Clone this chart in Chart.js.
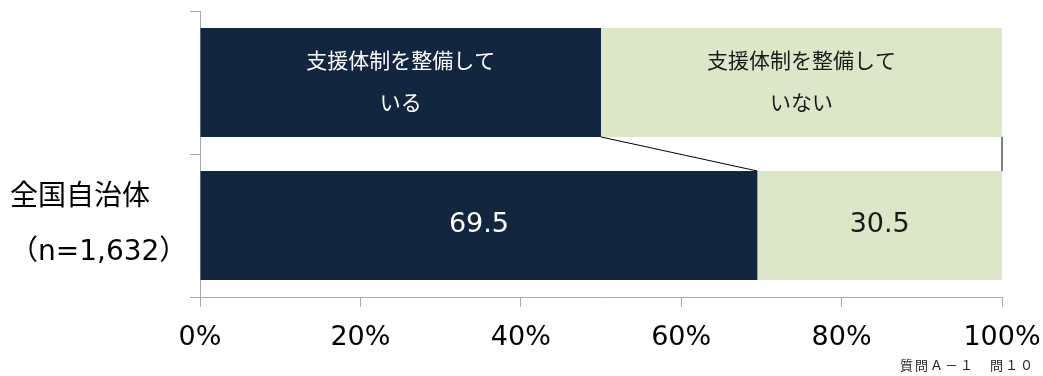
<!DOCTYPE html>
<html lang="ja">
<head>
  <meta charset="UTF-8" />
  <title>支援体制</title>
  <script src="https://cdn.jsdelivr.net/npm/chart.js"></script>
  <style>
    body { margin: 0; background: #fff; }
    canvas { display: block; }
  </style>
</head>
<body>
  <canvas id="chart" width="1043" height="376"></canvas>

  <script>
    // rows: top one is the header band that names the two parts
    const categories = ['', ['全国自治体', '（n=1,632）']];
    const seriesNames = [['支援体制を整備して', 'いる'], ['支援体制を整備して', 'いない']];
    const withSupport = [50, 69.5];
    const withoutSupport = [50, 30.5];
    const xTicks = [0, 20, 40, 60, 80, 100];
    const note = '質問Ａ－１　問１０';

    const FONT = "'DejaVu Sans', 'Noto Sans CJK JP', sans-serif";
    const DARK = '#132640';
    const LIGHT = '#dce6c8';
    const AXIS = '#a6a6a6';

    const barText = {
      id: 'barText',
      afterDatasetsDraw(chart) {
        const ctx = chart.ctx;
        ctx.save();
        ctx.textAlign = 'center';
        ctx.textBaseline = 'middle';
        chart.data.datasets.forEach((ds, di) => {
          const meta = chart.getDatasetMeta(di);
          meta.data.forEach((bar, i) => {
            const cx = (bar.x + bar.base) / 2;
            ctx.fillStyle = di === 0 ? '#ffffff' : '#1a1a1a';
            if (i === 0) {
              ctx.font = '21px ' + FONT;
              const lines = seriesNames[di];
              ctx.fillText(lines[0], cx, bar.y - 20);
              ctx.fillText(lines[1], cx, bar.y + 22);
            } else {
              ctx.font = '27px ' + FONT;
              ctx.fillText(ds.data[i].toFixed(1), cx, bar.y - 1);
            }
          });
        });
        ctx.restore();
      }
    };

    // Excel-style series lines between the two rows
    const seriesLines = {
      id: 'seriesLines',
      afterDatasetsDraw(chart) {
        const ctx = chart.ctx;
        ctx.save();
        ctx.strokeStyle = '#000';
        ctx.lineWidth = 1;
        chart.data.datasets.forEach((ds, di) => {
          const meta = chart.getDatasetMeta(di);
          const a = meta.data[0], b = meta.data[1];
          ctx.beginPath();
          ctx.moveTo(a.x, a.y + a.height / 2);
          ctx.lineTo(b.x, b.y - b.height / 2);
          ctx.stroke();
        });
        ctx.restore();
      }
    };

    const footNote = {
      id: 'footNote',
      afterDraw(chart) {
        const ctx = chart.ctx;
        ctx.save();
        ctx.font = '13px ' + FONT;
        ctx.letterSpacing = '2px';
        ctx.fillStyle = '#222';
        ctx.textAlign = 'right';
        ctx.textBaseline = 'middle';
        ctx.fillText(note, 1035, 367);
        ctx.restore();
      }
    };

    new Chart(document.getElementById('chart'), {
      type: 'bar',
      data: {
        labels: categories,
        datasets: [
          { data: withSupport, backgroundColor: DARK },
          { data: withoutSupport, backgroundColor: LIGHT }
        ]
      },
      options: {
        indexAxis: 'y',
        responsive: false,
        animation: false,
        layout: { padding: { top: 11, right: 41, left: 10, bottom: 0 } },
        datasets: { bar: { categoryPercentage: 1, barPercentage: 0.762 } },
        plugins: { legend: { display: false }, tooltip: { enabled: false } },
        scales: {
          x: {
            stacked: true,
            min: 0,
            max: 100,
            afterFit: s => {
              s.height = 79;
              s.paddingLeft = 0;
              s.paddingRight = 0;
            },
            afterBuildTicks: s => { s.ticks = xTicks.map(v => ({ value: v })); },
            ticks: {
              callback: v => v + '%',
              font: { family: FONT, size: 27 },
              color: '#000',
              padding: 15,
              maxRotation: 0
            },
            grid: { drawOnChartArea: false, tickLength: 10, color: AXIS },
            border: { color: AXIS }
          },
          y: {
            stacked: true,
            afterFit: s => {
              s.width = 190;
              s.paddingTop = 0;
              s.paddingBottom = 0;
            },
            ticks: {
              autoSkip: false,
              crossAlign: 'far',
              font: { family: FONT, size: 28, lineHeight: 1.96 },
              color: '#000',
              padding: 20
            },
            grid: { drawOnChartArea: false, offset: true, tickLength: 10, color: AXIS },
            border: { color: AXIS }
          }
        }
      },
      plugins: [barText, seriesLines, footNote]
    });
  </script>
</body>
</html>
